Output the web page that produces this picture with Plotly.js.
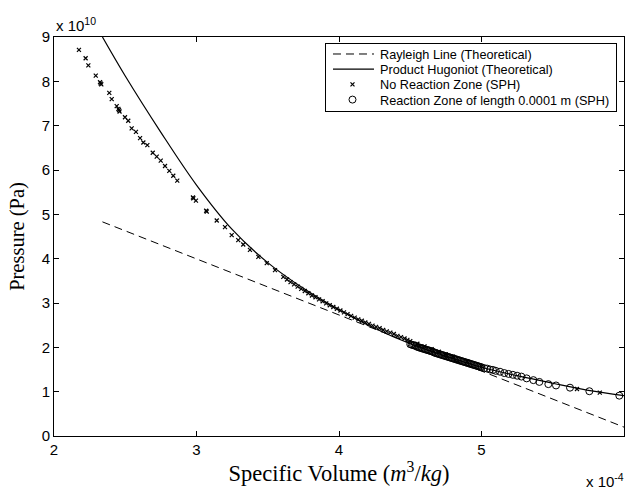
<!DOCTYPE html>
<html>
<head>
<meta charset="utf-8">
<script src="https://cdn.plot.ly/plotly-3.0.1.min.js"></script>
<style>html,body{margin:0;padding:0;background:#fff;}#chart{width:628px;height:495px;}</style>
</head>
<body>
<div id="chart"></div>
<script>
// Specific volume in units of 1e-4 m^3/kg, pressure in units of 1e10 Pa
const rayleighV = [2.34, 6.0];
const rayleighP = [4.83, 0.2];

const hugoniotV = [2.34, 2.5, 2.75, 3.0, 3.25, 3.5, 3.75, 4.0, 4.25, 4.5, 4.75, 5.0, 5.25, 5.5, 5.75, 6.0];
const hugoniotP = [9.0, 8.12, 6.85, 5.66, 4.66, 3.91, 3.33, 2.85, 2.43, 2.08, 1.8, 1.55, 1.36, 1.19, 1.03, 0.91];

const noReactionV = [2.175, 2.222, 2.241, 2.293, 2.323, 2.328, 2.332, 2.388, 2.405, 2.44, 2.452, 2.456, 2.46, 2.498, 2.521, 2.545, 2.575, 2.604, 2.627, 2.655, 2.693, 2.721, 2.749, 2.779, 2.809, 2.837, 2.865, 2.975, 2.978, 2.996, 3.068, 3.072, 3.142, 3.2, 3.247, 3.293, 3.328, 3.375, 3.434, 3.493, 3.551, 3.609, 3.635, 3.66, 3.685, 3.71, 3.735, 3.76, 3.785, 3.81, 3.835, 3.86, 3.885, 3.91, 3.935, 3.96, 3.985, 4.01, 4.035, 4.06, 4.085, 4.11, 4.135, 4.16, 4.185, 4.21, 4.235, 4.26, 4.285, 4.31, 4.335, 4.36, 4.385, 4.41, 4.435, 4.46, 4.48, 4.5, 4.55, 4.6, 4.65, 4.7, 4.75, 4.8, 4.9, 5.0, 5.67, 5.83];
const noReactionP = [8.71, 8.52, 8.36, 8.13, 7.98, 7.95, 7.93, 7.74, 7.60, 7.44, 7.38, 7.35, 7.32, 7.19, 7.11, 6.94, 6.86, 6.72, 6.62, 6.56, 6.39, 6.30, 6.21, 6.09, 5.98, 5.87, 5.76, 5.38, 5.36, 5.31, 5.08, 5.06, 4.86, 4.71, 4.53, 4.42, 4.32, 4.20, 4.04, 3.90, 3.74, 3.59, 3.53, 3.47, 3.42, 3.37, 3.32, 3.27, 3.22, 3.17, 3.13, 3.08, 3.04, 2.99, 2.95, 2.91, 2.87, 2.83, 2.79, 2.75, 2.71, 2.67, 2.63, 2.60, 2.56, 2.53, 2.49, 2.46, 2.43, 2.39, 2.36, 2.33, 2.30, 2.26, 2.23, 2.20, 2.17, 2.14, 2.08, 2.02, 1.96, 1.9, 1.84, 1.79, 1.68, 1.57, 1.06, 0.98];

const reactionV = [4.50, 4.51, 4.52, 4.53, 4.54, 4.55, 4.56, 4.57, 4.58, 4.59, 4.60, 4.61, 4.62, 4.63, 4.64, 4.65, 4.66, 4.67, 4.68, 4.69, 4.70, 4.71, 4.72, 4.73, 4.74, 4.75, 4.76, 4.77, 4.78, 4.79, 4.80, 4.81, 4.82, 4.83, 4.84, 4.85, 4.86, 4.87, 4.88, 4.89, 4.90, 4.91, 4.92, 4.93, 4.94, 4.95, 4.96, 4.97, 4.98, 4.99, 5.00, 5.02, 5.04, 5.06, 5.08, 5.10, 5.13, 5.16, 5.19, 5.22, 5.25, 5.28, 5.317, 5.364, 5.406, 5.469, 5.523, 5.621, 5.757, 5.967];
const reactionP = [2.07, 2.06, 2.05, 2.04, 2.03, 2.01, 2.00, 1.99, 1.98, 1.97, 1.96, 1.95, 1.94, 1.93, 1.92, 1.91, 1.90, 1.88, 1.87, 1.86, 1.85, 1.84, 1.83, 1.82, 1.81, 1.80, 1.79, 1.78, 1.77, 1.76, 1.75, 1.74, 1.73, 1.72, 1.71, 1.70, 1.69, 1.68, 1.67, 1.66, 1.65, 1.64, 1.63, 1.62, 1.61, 1.60, 1.59, 1.58, 1.57, 1.56, 1.55, 1.53, 1.52, 1.50, 1.49, 1.47, 1.45, 1.42, 1.40, 1.38, 1.36, 1.34, 1.30, 1.26, 1.22, 1.17, 1.14, 1.09, 1.01, 0.91];

const xTicks = [2, 3, 4, 5, 6];
const yTicks = [0, 1, 2, 3, 4, 5, 6, 7, 8, 9];

const traces = [
  {x: rayleighV, y: rayleighP, type: 'scatter', mode: 'lines', name: 'Rayleigh Line (Theoretical)',
   line: {color: '#000', width: 1, dash: '8px,5px'}},
  {x: hugoniotV, y: hugoniotP, type: 'scatter', mode: 'lines', name: 'Product Hugoniot (Theoretical)',
   line: {color: '#000', width: 1.2, shape: 'spline'}},
  {x: noReactionV, y: noReactionP, type: 'scatter', mode: 'markers', name: 'No Reaction Zone (SPH)',
   marker: {symbol: 'x-thin-open', size: 4, color: '#000', line: {color: '#000', width: 1.2}}},
  {x: reactionV, y: reactionP, type: 'scatter', mode: 'markers', name: 'Reaction Zone of length 0.0001 m (SPH)',
   marker: {symbol: 'circle-open', size: 7, color: '#000', line: {color: '#000', width: 1}}}
];

const sansFamily = 'Liberation Sans, Arial, sans-serif';
const tickFont = {family: sansFamily, size: 15, color: '#000'};
const serifFamily = 'Liberation Serif, Times New Roman, serif';

const layout = {
  width: 628, height: 495,
  margin: {l: 54, r: 4, t: 37, b: 59, pad: 0},
  paper_bgcolor: '#fff', plot_bgcolor: '#fff',
  showlegend: true,
  legend: {
    x: 0.9877, y: 0.985, xanchor: 'right', yanchor: 'top',
    bordercolor: '#000', borderwidth: 1, bgcolor: '#fff',
    font: {family: sansFamily, size: 12.7, color: '#000'},
    itemwidth: 45, tracegroupgap: 0
  },
  xaxis: {
    range: [2, 6], tickvals: xTicks, ticktext: xTicks.map(String),
    ticks: 'inside', ticklen: 5, tickcolor: '#000', tickwidth: 1,
    showline: true, linecolor: '#000', linewidth: 1, mirror: 'allticks',
    showgrid: false, zeroline: false, tickfont: tickFont,
    title: {text: 'Specific Volume (<i>m</i><sup>3</sup>/<i>kg</i>)', font: {family: serifFamily, size: 22.5, color: '#000'}, standoff: 0}
  },
  yaxis: {
    range: [0, 9], tickvals: yTicks, ticktext: yTicks.map(String),
    ticks: 'inside', ticklen: 5, tickcolor: '#000', tickwidth: 1,
    showline: true, linecolor: '#000', linewidth: 1, mirror: 'allticks',
    showgrid: false, zeroline: false, tickfont: tickFont,
    title: {text: 'Pressure (Pa)', font: {family: serifFamily, size: 20.5, color: '#000'}, standoff: 11}
  },
  annotations: [
    {xref: 'paper', yref: 'paper', x: 0, y: 1, xanchor: 'left', yanchor: 'bottom', yshift: 1,
     text: 'x 10<sup>10</sup>', showarrow: false, font: {family: sansFamily, size: 15, color: '#000'}},
    {xref: 'paper', yref: 'paper', x: 1.004, y: -0.082, xanchor: 'right', yanchor: 'top',
     text: 'x 10<sup>-4</sup>', showarrow: false, font: {family: sansFamily, size: 15, color: '#000'}}
  ]
};

Plotly.newPlot('chart', traces, layout, {displayModeBar: false, staticPlot: true}).then(function (gd) {
  // Matlab-style legend: longer line samples, tighter rows
  const leg = gd.querySelector('.legend');
  if (!leg) return;
  const items = leg.querySelectorAll('.traces');
  const rowGap = 15.2, firstRow = 11;
  items.forEach(function (it, i) {
    it.setAttribute('transform', 'translate(0,' + (firstRow + i * rowGap) + ')');
    it.querySelectorAll('.legendlines path').forEach(function (p) {
      p.setAttribute('d', 'M8,0h41');
    });
    it.querySelectorAll('.legendpoints .scatterpts').forEach(function (p) {
      const tr = p.getAttribute('transform') || '';
      p.setAttribute('transform', tr.replace(/translate\(\s*20/, 'translate(28'));
    });
  });
  const bg = leg.querySelector('rect.bg');
  if (bg) bg.setAttribute('height', String(2 * firstRow + (items.length - 1) * rowGap));
});
</script>
</body>
</html>
